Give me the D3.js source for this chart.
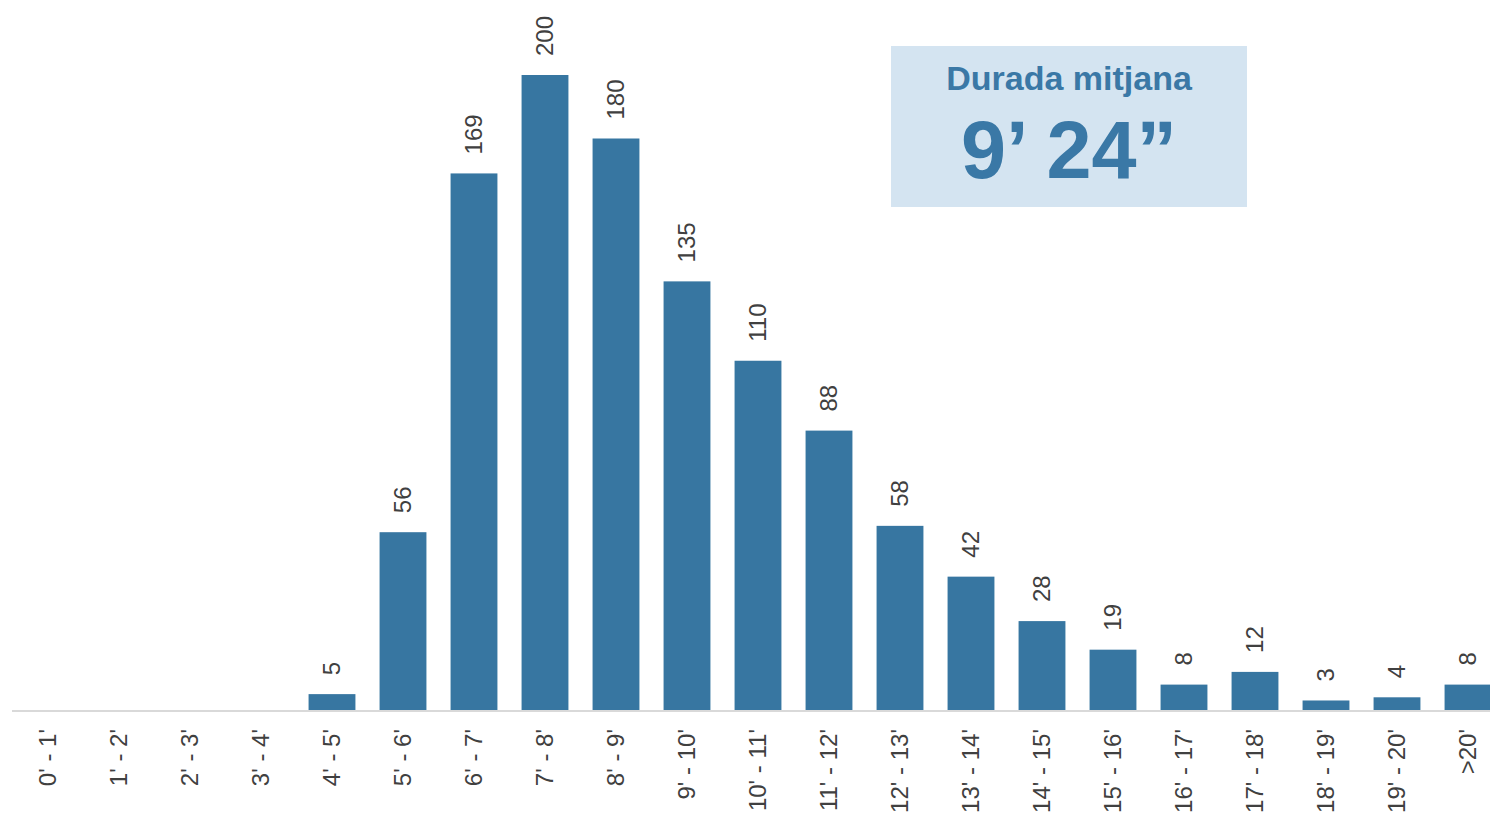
<!DOCTYPE html>
<html>
<head>
<meta charset="utf-8">
<script src="https://cdn.jsdelivr.net/npm/d3@7"></script>
<style>
  body { margin: 0; background: #fff; }
  svg { display: block; font-family: "Liberation Sans", Arial, sans-serif; }
</style>
</head>
<body>
<svg id="chart" width="1490" height="817"></svg>
<script>
const categories = ["0' - 1'", "1' - 2'", "2' - 3'", "3' - 4'", "4' - 5'", "5' - 6'", "6' - 7'",
  "7' - 8'", "8' - 9'", "9' - 10'", "10' - 11'", "11' - 12'", "12' - 13'", "13' - 14'",
  "14' - 15'", "15' - 16'", "16' - 17'", "17' - 18'", "18' - 19'", "19' - 20'", ">20'"];
const values = [0, 0, 0, 0, 5, 56, 169, 200, 180, 135, 110, 88, 58, 42, 28, 19, 8, 12, 3, 4, 8];
const boxTitle = "Durada mitjana";
const boxValue = "9\u2019 24\u201D";

const svg = d3.select("#chart");
const baseY = 710;

const x = d3.scaleBand()
  .domain(categories)
  .range([12.5, 1503.5])
  .paddingInner(0.34)
  .paddingOuter(0.17);

const y = d3.scaleLinear()
  .domain([0, 200])
  .range([baseY, 75]);

const rows = categories.map((c, i) => ({cat: c, value: values[i]}));

// bars
svg.append("g")
  .selectAll("rect")
  .data(rows.filter(d => d.value > 0))
  .join("rect")
    .attr("x", d => x(d.cat))
    .attr("y", d => y(d.value))
    .attr("width", x.bandwidth())
    .attr("height", d => baseY - y(d.value))
    .attr("fill", "#3776a1");

// baseline
svg.append("line")
  .attr("x1", 12).attr("x2", 1490)
  .attr("y1", baseY + 1).attr("y2", baseY + 1)
  .attr("stroke", "#d9d9d9")
  .attr("stroke-width", 2);

// value labels
svg.append("g")
  .selectAll("text")
  .data(rows.filter(d => d.value > 0))
  .join("text")
    .attr("transform", d => `translate(${x(d.cat) + x.bandwidth() / 2},${y(d.value) - 19}) rotate(-90)`)
    .attr("dy", "0.35em")
    .attr("text-anchor", "start")
    .attr("font-size", 24)
    .attr("fill", "#404040")
    .text(d => d.value);

// category labels
svg.append("g")
  .selectAll("text")
  .data(categories)
  .join("text")
    .attr("transform", d => `translate(${x(d) + x.bandwidth() / 2},729) rotate(-90)`)
    .attr("dy", "0.35em")
    .attr("text-anchor", "end")
    .attr("font-size", 24)
    .attr("fill", "#404040")
    .text(d => d);

// average box
const box = svg.append("g");
box.append("rect")
  .attr("x", 891).attr("y", 46)
  .attr("width", 356).attr("height", 161)
  .attr("fill", "#d4e4f1");
box.append("text")
  .attr("x", 1069).attr("y", 90)
  .attr("text-anchor", "middle")
  .attr("font-size", 34)
  .attr("font-weight", "bold")
  .attr("fill", "#3a78a6")
  .text(boxTitle);
box.append("text")
  .attr("x", 1069).attr("y", 178)
  .attr("text-anchor", "middle")
  .attr("font-size", 81)
  .attr("font-weight", "bold")
  .attr("fill", "#3a78a6")
  .text(boxValue);
</script>
</body>
</html>
